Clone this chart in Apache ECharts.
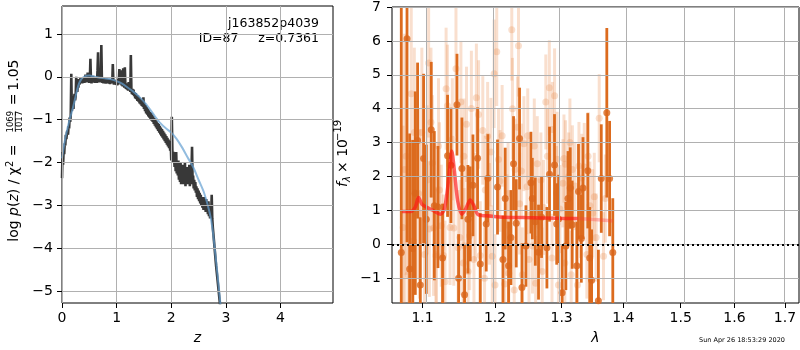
<!DOCTYPE html>
<html>
<head>
<meta charset="utf-8">
<script src="https://cdn.jsdelivr.net/npm/echarts@6/dist/echarts.min.js"></script>
<style>
	html, body { margin: 0; padding: 0; background: #fff; }
	#chart { width: 800px; height: 350px; }
</style>
</head>
<body>
<div id="chart"></div>
<script>
	// 左图：log p(z)
	var pzZ = [0.00, 0.01, 0.02, 0.03, 0.04, 0.05, 0.06, 0.07, 0.08, 0.09, 0.10, 0.11, 0.12, 0.13, 0.14, 0.15, 0.16, 0.17, 0.18, 0.19,
		0.20, 0.21, 0.22, 0.23, 0.24, 0.25, 0.26, 0.27, 0.28, 0.29, 0.30, 0.31, 0.32, 0.33, 0.34, 0.35, 0.36, 0.37, 0.38, 0.39,
		0.40, 0.41, 0.42, 0.43, 0.44, 0.45, 0.46, 0.47, 0.48, 0.49, 0.50, 0.51, 0.52, 0.53, 0.54, 0.55, 0.56, 0.57, 0.58, 0.59,
		0.60, 0.61, 0.62, 0.63, 0.64, 0.65, 0.66, 0.67, 0.68, 0.69, 0.70, 0.71, 0.72, 0.73, 0.74, 0.75, 0.76, 0.77, 0.78, 0.79,
		0.80, 0.81, 0.82, 0.83, 0.84, 0.85, 0.86, 0.87, 0.88, 0.89, 0.90, 0.91, 0.92, 0.93, 0.94, 0.95, 0.96, 0.97, 0.98, 0.99,
		1.00, 1.01, 1.02, 1.03, 1.04, 1.05, 1.06, 1.07, 1.08, 1.09, 1.10, 1.11, 1.12, 1.13, 1.14, 1.15, 1.16, 1.17, 1.18, 1.19,
		1.20, 1.21, 1.22, 1.23, 1.24, 1.25, 1.26, 1.27, 1.28, 1.29, 1.30, 1.31, 1.32, 1.33, 1.34, 1.35, 1.36, 1.37, 1.38, 1.39,
		1.40, 1.41, 1.42, 1.43, 1.44, 1.45, 1.46, 1.47, 1.48, 1.49, 1.50, 1.51, 1.52, 1.53, 1.54, 1.55, 1.56, 1.57, 1.58, 1.59,
		1.60, 1.61, 1.62, 1.63, 1.64, 1.65, 1.66, 1.67, 1.68, 1.69, 1.70, 1.71, 1.72, 1.73, 1.74, 1.75, 1.76, 1.77, 1.78, 1.79,
		1.80, 1.81, 1.82, 1.83, 1.84, 1.85, 1.86, 1.87, 1.88, 1.89, 1.90, 1.91, 1.92, 1.93, 1.94, 1.95, 1.96, 1.97, 1.98, 1.99,
		2.00, 2.01, 2.02, 2.03, 2.04, 2.05, 2.06, 2.07, 2.08, 2.09, 2.10, 2.11, 2.12, 2.13, 2.14, 2.15, 2.16, 2.17, 2.18, 2.19,
		2.20, 2.21, 2.22, 2.23, 2.24, 2.25, 2.26, 2.27, 2.28, 2.29, 2.30, 2.31, 2.32, 2.33, 2.34, 2.35, 2.36, 2.37, 2.38, 2.39,
		2.40, 2.41, 2.42, 2.43, 2.44, 2.45, 2.46, 2.47, 2.48, 2.49, 2.50, 2.51, 2.52, 2.53, 2.54, 2.55, 2.56, 2.57, 2.58, 2.59,
		2.60, 2.61, 2.62, 2.63, 2.64, 2.65, 2.66, 2.67, 2.68, 2.69, 2.70, 2.71, 2.72, 2.73, 2.74, 2.75, 2.76, 2.78, 2.80, 2.82,
		2.84, 2.86, 2.88, 2.90];
	var pzLog = [-2.36, -1.75, -2.05, -1.70, -1.80, -1.55, -1.60, -1.35, -1.45, -1.30, -1.25, -1.35, -1.15, -1.20, -0.95, -1.05, -0.90, 0.07, -0.80, -0.70,
		-0.55, -0.75, -0.50, -0.40, -0.55, -0.45, 0.00, -0.30, -0.35, -0.20, -0.25, -0.05, -0.18, -0.15, -0.02, -0.12, -0.06, -0.15, -0.04, -0.12,
		-0.03, -0.14, -0.05, 0.05, -0.12, -0.04, -0.13, 0.10, -0.10, -0.03, -0.14, -0.06, 0.42, -0.08, -0.15, -0.02, -0.12, 0.02, -0.13, -0.05,
		-0.14, 0.00, -0.12, -0.05, -0.14, 0.15, 0.57, -0.10, -0.02, -0.13, 0.20, -0.08, 0.74, -0.05, -0.14, -0.04, -0.15, -0.03, -0.14, -0.06,
		-0.16, -0.04, -0.14, -0.06, -0.15, -0.05, -0.16, -0.07, -0.17, -0.06, -0.15, -0.05, -0.12, 0.30, -0.10, -0.18, -0.08, -0.17, -0.07, -0.19,
		-0.09, -0.20, -0.05, -0.18, -0.08, 0.18, -0.15, -0.06, 0.15, -0.20, -0.10, -0.22, 0.20, -0.15, -0.25, 0.22, -0.20, -0.28, -0.15, -0.30,
		-0.18, -0.32, -0.12, -0.30, -0.22, -0.35, 0.51, -0.30, -0.40, -0.28, -0.42, -0.30, -0.45, -0.36, -0.50, -0.38, -0.52, -0.42, -0.56, -0.44,
		-0.58, -0.47, -0.62, -0.50, -0.64, -0.53, -0.68, -0.56, -0.70, -0.48, -0.75, -0.62, -0.80, -0.66, -0.85, -0.70, -0.88, -0.74, -0.92, -0.78,
		-0.95, -0.82, -0.98, -0.84, -1.02, -0.88, -1.05, -0.92, -1.10, -0.96, -1.14, -1.00, -1.18, -1.04, -1.22, -1.08, -1.26, -1.10, -1.30, -1.14,
		-1.34, -1.18, -1.38, -1.22, -1.42, -1.26, -1.46, -1.30, -1.50, -1.34, -1.54, -1.38, -1.58, -1.42, -1.62, -1.46, -1.66, -1.50, -1.72, -1.55,
		-1.95, -0.93, -1.70, -2.00, -1.75, -1.85, -2.10, -1.80, -2.20, -1.75, -2.25, -1.95, -2.30, -1.95, -2.40, -2.05, -2.45, -2.00, -2.50, -2.10,
		-2.40, -2.05, -2.50, -2.15, -2.45, -2.00, -2.55, -2.15, -2.45, -2.10, -2.50, -2.20, -2.45, -2.05, -2.55, -2.25, -2.50, -2.20, -1.63, -2.40,
		-2.30, -2.60, -2.40, -2.65, -2.45, -2.70, -2.55, -2.80, -2.60, -2.85, -2.65, -2.90, -2.70, -2.95, -2.75, -3.00, -2.80, -3.05, -2.85, -3.10,
		-2.80, -3.05, -2.90, -3.15, -2.85, -3.10, -2.95, -3.20, -2.90, -3.25, -3.00, -3.30, -3.05, -3.25, -2.75, -3.30, -3.50, -3.80, -4.10, -4.40,
		-4.65, -4.90, -5.15, -5.40];
	// 平滑先验曲线
	var priorZ = [0.00, 0.05, 0.10, 0.15, 0.20, 0.25, 0.30, 0.35, 0.40, 0.50, 0.60, 0.70, 0.80, 0.90, 1.00, 1.10, 1.20, 1.30, 1.40,
		1.50, 1.60, 1.70, 1.80, 1.90, 2.00, 2.10, 2.20, 2.30, 2.40, 2.50, 2.60, 2.70, 2.75, 2.80, 2.85, 2.90];
	var priorLog = [-1.90, -1.50, -1.20, -0.95, -0.72, -0.45, -0.20, -0.06, 0.00, 0.03, 0.00, -0.02, -0.04, -0.06, -0.10, -0.16, -0.25, -0.34, -0.45,
		-0.58, -0.74, -0.92, -1.08, -1.20, -1.30, -1.45, -1.65, -1.88, -2.10, -2.40, -2.70, -3.15, -3.50, -4.05, -4.65, -5.30];

	// 右图：光谱 (λ, f, 误差)
	var darkLam = [1.0722, 1.0796, 1.0830, 1.0869, 1.0904, 1.0934, 1.0970, 1.1013, 1.1049, 1.1115, 1.1156, 1.1205, 1.1267, 1.1335, 1.1381, 1.1464,
		1.1486, 1.1532, 1.1569, 1.1616, 1.1648, 1.1686, 1.1751, 1.1789, 1.1874, 1.1898, 1.2036, 1.2115, 1.2148, 1.2197, 1.2232, 1.2270,
		1.2310, 1.2359, 1.2395, 1.2454, 1.2529, 1.2550, 1.2595, 1.2644, 1.2690, 1.2772, 1.2812, 1.2889, 1.2923, 1.2953, 1.3008, 1.3066,
		1.3100, 1.3135, 1.3166, 1.3239, 1.3266, 1.3311, 1.3338, 1.3415, 1.3446, 1.3477, 1.3587, 1.3634, 1.3725, 1.3771, 1.3824];
	var darkFlux = [-0.24, 6.06, -0.73, -0.12, 1.51, 3.06, -1.20, 2.53, 0.74, 3.38, 1.14, 1.10, -0.40, 2.61, 2.33, 4.12,
		-1.00, 2.24, -1.49, 0.74, 0.90, 1.74, 2.54, -0.58, 0.60, 1.95, 1.69, -0.45, 1.35, -0.63, 0.20, 2.38,
		0.62, 3.12, -1.27, -0.05, 1.82, 1.35, 0.67, -0.23, 0.80, -0.10, 2.07, 2.34, 0.60, 0.75, -1.43, -0.05,
		1.35, 1.66, 0.58, -0.63, 1.56, 0.17, 1.66, 2.17, -0.40, -1.06, -1.66, 1.94, 3.88, 1.94, -0.24];
	var darkErr = [7.5, 6.0, 4.0, 3.2, 3.0, 2.3, 2.0, 2.5, 2.2, 2.0, 2.2, 1.8, 1.6, 1.8, 1.7, 1.5,
		1.3, 1.5, 1.5, 1.6, 1.4, 1.5, 1.5, 1.5, 1.4, 1.3, 1.4, 1.3, 1.5, 1.3, 1.4, 1.4,
		1.3, 1.5, 1.3, 1.2, 1.5, 1.2, 1.3, 1.4, 1.2, 1.2, 1.4, 1.5, 1.2, 1.3, 1.4, 1.3,
		1.4, 1.2, 1.3, 1.3, 1.4, 1.3, 1.5, 1.7, 1.5, 1.5, 1.5, 1.6, 2.5, 1.7, 1.6];

	var lightLam = [1.0765, 1.0851, 1.0891, 1.0947, 1.1080, 1.1111, 1.1146, 1.1181, 1.1212, 1.1279, 1.1315, 1.1333, 1.1369, 1.1450, 1.1505, 1.1518,
		1.1563, 1.1596, 1.1618, 1.1664, 1.1734, 1.1765, 1.1789, 1.1825, 1.1894, 1.1941, 1.1987, 1.2025, 1.2071, 1.2103, 1.2141, 1.2174,
		1.2244, 1.2254, 1.2292, 1.2329, 1.2343, 1.2386, 1.2424, 1.2481, 1.2553, 1.2625, 1.2663, 1.2721, 1.2755, 1.2809, 1.2856, 1.2890,
		1.2929, 1.2973, 1.3036, 1.3061, 1.3110, 1.3169, 1.3209, 1.3273, 1.3318, 1.3358, 1.3449, 1.3494, 1.3600, 1.3671,
		1.0745, 1.0810, 1.0880, 1.0960, 1.1025, 1.1090, 1.1180, 1.1250, 1.1300, 1.1420, 1.1480, 1.1550, 1.1640, 1.1700, 1.1850, 1.1960,
		1.2000, 1.2200, 1.2280, 1.2400, 1.2500, 1.2600, 1.2700, 1.2850, 1.2950, 1.3050, 1.3150, 1.3250, 1.3400, 1.3550, 1.3700,
		1.0785, 1.0990, 1.1060, 1.1130, 1.1225, 1.1400, 1.1560, 1.1720, 1.1860, 1.1920, 1.2050, 1.2190, 1.2360, 1.2470, 1.2580, 1.2680,
		1.2780, 1.2920, 1.3020, 1.3130, 1.3300, 1.3420, 1.3520];
	var lightFlux = [2.21, 4.44, 3.30, 1.50, 5.35, 3.60, 0.48, -0.30, 2.90, -0.33, 4.59, 4.09, 0.50, 5.18, 0.20, 4.20,
		-0.04, 3.54, -0.80, 4.01, 4.32, 3.83, -0.33, 3.36, 3.19, 2.72, 5.03, 5.68, 1.87, 3.20, -1.17, 0.57,
		6.33, 4.00, 2.21, 3.45, 5.86, 2.16, 2.97, 3.20, -0.05, 2.38, 0.54, 1.09, 4.20, 4.62, 3.39, 4.38,
		2.51, 1.04, 2.53, 2.36, 2.00, 2.21, 1.72, 2.31, 1.96, 2.28, 1.14, 0.92, 3.72, -0.35,
		0.50, -0.90, 0.10, 0.90, -0.30, 0.45, -0.35, 0.55, -1.10, 0.48, -0.10, -0.55, 0.25, -0.45, -1.00, -0.35,
		-1.20, -0.85, -1.35, -0.90, -0.45, -1.15, -0.80, -0.40, -1.20, -0.55, -0.90, -1.20, -0.30, 0.20, 1.35,
		2.60, 3.30, 1.90, 2.40, 1.60, 3.10, 2.60, 1.10, 1.60, 0.90, 2.50, 1.50, 1.20, 1.70, 2.90, 1.90,
		2.60, 1.50, 1.80, 3.00, 0.90, 2.60, 1.40];
	var lightErr = [4.0, 3.0, 2.5, 2.5, 2.2, 2.2, 2.0, 2.0, 2.0, 1.8, 1.8, 1.8, 1.7, 2.0, 1.7, 1.8,
		1.7, 1.7, 1.6, 1.7, 1.6, 1.6, 1.6, 1.6, 1.6, 1.6, 1.6, 1.6, 1.5, 1.5, 1.5, 1.5,
		1.5, 1.5, 1.5, 1.5, 1.5, 1.4, 1.4, 1.4, 1.4, 1.4, 1.4, 1.4, 1.4, 1.4, 1.4, 1.4,
		1.4, 1.3, 1.3, 1.3, 1.3, 1.3, 1.3, 1.3, 1.3, 1.3, 1.3, 1.3, 1.3, 1.3,
		3.0, 3.0, 2.5, 2.5, 2.0, 2.0, 2.0, 1.8, 1.8, 1.7, 1.7, 1.7, 1.6, 1.6, 1.5, 1.5,
		1.5, 1.5, 1.5, 1.4, 1.4, 1.4, 1.3, 1.3, 1.3, 1.3, 1.3, 1.3, 1.3, 1.3, 1.3,
		3.5, 2.5, 2.2, 2.0, 2.0, 1.8, 1.7, 1.6, 1.6, 1.5, 1.5, 1.5, 1.5, 1.4, 1.4, 1.4,
		1.4, 1.4, 1.3, 1.3, 1.3, 1.3, 1.3];

	// 模型曲线
	var modelLam = [1.0730, 1.0840, 1.0904, 1.0947, 1.0992, 1.1058, 1.1146, 1.1235, 1.1288, 1.1335, 1.1381, 1.1391, 1.1429, 1.1474, 1.1532,
		1.1590, 1.1648, 1.1694, 1.1762, 1.1878, 1.2061, 1.2439, 1.2946, 1.3252];
	var modelFlux = [0.97, 0.97, 1.10, 1.38, 1.18, 1.09, 0.99, 0.89, 1.02, 1.65, 2.61, 2.75, 2.16, 1.28, 0.89,
		1.07, 1.31, 1.16, 0.87, 0.84, 0.81, 0.79, 0.77, 0.76];
	var modelTailLam = [1.3252, 1.3459, 1.3749, 1.3824];
	var modelTailFlux = [0.76, 0.74, 0.70, 0.69];

	var zTicks = [0, 1, 2, 3, 4];
	var pzTicks = [-5, -4, -3, -2, -1, 0, 1];
	var lamTicks = [1.1, 1.2, 1.3, 1.4, 1.5, 1.6, 1.7];
	var fluxTicks = [-1, 0, 1, 2, 3, 4, 5, 6, 7];

	var FONT = 'DejaVu Sans';
	var minus = function(v) { return String(v).replace('-', '\u2212'); };
	var zip = function(a, b) { return a.map(function(v, i) { return [v, b[i]]; }); };
	var lnZip = function(a, b) { return a.map(function(v, i) { return [Math.log(v), b[i]]; }); };
	var lnZip3 = function(a, b, c) { return a.map(function(v, i) { return [Math.log(v), b[i], c[i]]; }); };

	/*误差棒*/
	function errBar(color, width) {
		return function(params, api) {
			var x = api.value(0), y = api.value(1), e = api.value(2);
			var p1 = api.coord([x, y - e]);
			var p2 = api.coord([x, y + e]);
			return {
				type: 'line',
				shape: { x1: p1[0], y1: p1[1], x2: p2[0], y2: p2[1] },
				style: { stroke: color, lineWidth: width }
			};
		};
	}

	/*网格线*/
	function gridLines(xi, xs, ys) {
		var data = xs.map(function(v) { return { xAxis: v }; }).concat(ys.map(function(v) { return { yAxis: v }; }));
		return {
			type: 'line', xAxisIndex: xi, yAxisIndex: xi, data: [], z: 1, silent: true,
			markLine: { silent: true, symbol: 'none', label: { show: false }, animation: false,
				lineStyle: { color: '#b0b0b0', width: 1, type: 'solid' }, emphasis: { disabled: true }, data: data }
		};
	}

	function ax(extra, ticks, fmt, margin) {
		return Object.assign({
			axisLine: { show: false, onZero: false },
			axisTick: { show: true, inside: false, length: 5, customValues: ticks, lineStyle: { color: '#000', width: 1 } },
			splitLine: { show: false },
			axisLabel: { color: '#000', fontSize: 14, fontFamily: FONT, customValues: ticks, formatter: fmt, margin: margin }
		}, extra);
	}

	var myChart = echarts.init(document.getElementById('chart'));
	var option = {
		animation: false,
		grid: [
			{ left: 62, top: 6, width: 271, height: 298, show: true, borderColor: '#000', borderWidth: 1, backgroundColor: 'transparent' },
			{ left: 392, top: 6, width: 407, height: 298, show: true, borderColor: '#000', borderWidth: 1, backgroundColor: 'transparent' }
		],
		xAxis: [
			ax({ type: 'value', gridIndex: 0, min: 0, max: 4.96, name: 'z', nameLocation: 'middle', nameGap: 28,
				nameTextStyle: { fontSize: 14, fontStyle: 'italic', fontFamily: FONT, color: '#000' } },
				zTicks, function(v) { return minus(v); }, 8),
			ax({ type: 'value', gridIndex: 1, min: Math.log(1.0603), max: Math.log(1.729), name: 'λ', nameLocation: 'middle', nameGap: 28,
				nameTextStyle: { fontSize: 14, fontStyle: 'italic', fontFamily: FONT, color: '#000' } },
				lamTicks.map(Math.log), function(v) { return Math.exp(v).toFixed(1); }, 8)
		],
		yAxis: [
			ax({ type: 'value', gridIndex: 0, min: -5.27, max: 1.65 }, pzTicks, function(v) { return minus(v); }, 9),
			ax({ type: 'value', gridIndex: 1, min: -1.73, max: 7 }, fluxTicks, function(v) { return minus(v); }, 11)
		],
		graphic: [
			{ type: 'text', x: 319, y: 23.5, style: { text: 'j163852p4039', font: '12.5px ' + FONT, fill: '#000', textAlign: 'right', textVerticalAlign: 'middle' } },
			{ type: 'text', x: 238.5, y: 38.5, style: { text: 'ID=87', font: '12.5px ' + FONT, fill: '#000', textAlign: 'right', textVerticalAlign: 'middle' } },
			{ type: 'text', x: 319, y: 38.5, style: { text: 'z=0.7361', font: '12.5px ' + FONT, fill: '#000', textAlign: 'right', textVerticalAlign: 'middle' } },
			{ type: 'text', x: 742, y: 340, style: { text: 'Sun Apr 26 18:53:29 2020', font: '6.5px ' + FONT, fill: '#000', textAlign: 'center', textVerticalAlign: 'middle' } },
			{
				type: 'group', x: 14, y: 241.7, rotation: Math.PI / 2,
				children: [
					{ type: 'text', x: 0, y: 0, style: {
						text: '{n|log }{i|p}{n|(}{i|z}{n|) / χ}{u|2}{n| =}',
						fill: '#000', textAlign: 'left', textVerticalAlign: 'middle',
						rich: {
							n: { font: '14px ' + FONT, fill: '#000', lineHeight: 18 },
							i: { font: 'italic 14px ' + FONT, fill: '#000', lineHeight: 18 },
							u: { font: '10px ' + FONT, fill: '#000', verticalAlign: 'top', lineHeight: 18 }
						} } },
					{ type: 'text', x: 120, y: -3, style: { text: '1069', font: '8.5px ' + FONT, fill: '#000', textAlign: 'center', textVerticalAlign: 'middle' } },
					{ type: 'line', shape: { x1: 110, y1: 1.3, x2: 130, y2: 1.3 }, style: { stroke: '#000', lineWidth: 0.8 } },
					{ type: 'text', x: 120, y: 5.5, style: { text: '1017', font: '8.5px ' + FONT, fill: '#000', textAlign: 'center', textVerticalAlign: 'middle' } },
					{ type: 'text', x: 136.5, y: 0, style: { text: '=', font: '14px ' + FONT, fill: '#000', textAlign: 'left', textVerticalAlign: 'middle' } },
					{ type: 'text', x: 151, y: 0, style: { text: '1.05', font: '14px ' + FONT, fill: '#000', textAlign: 'left', textVerticalAlign: 'middle' } }
				]
			},
			{
				type: 'group', x: 343, y: 187, rotation: Math.PI / 2,
				children: [
					{ type: 'text', x: 0, y: 0, style: { text: 'f', font: 'italic 14px ' + FONT, fill: '#000', textAlign: 'left', textVerticalAlign: 'middle' } },
					{ type: 'text', x: 5, y: 4, style: { text: 'λ', font: 'italic 10px ' + FONT, fill: '#000', textAlign: 'left', textVerticalAlign: 'middle' } },
					{ type: 'text', x: 14, y: 0, style: { text: '× 10', font: '14px ' + FONT, fill: '#000', textAlign: 'left', textVerticalAlign: 'middle' } },
					{ type: 'text', x: 46, y: -5, style: { text: '\u221219', font: '10px ' + FONT, fill: '#000', textAlign: 'left', textVerticalAlign: 'middle' } }
				]
			}
		],
		series: [
			gridLines(0, zTicks, pzTicks),
			gridLines(1, lamTicks.map(Math.log), fluxTicks),
			{ type: 'line', xAxisIndex: 0, yAxisIndex: 0, data: zip(pzZ, pzLog), showSymbol: false, clip: true, z: 2,
				lineStyle: { color: '#383838', width: 2.6 } },
			{ type: 'line', xAxisIndex: 0, yAxisIndex: 0, data: zip(priorZ, priorLog), showSymbol: false, clip: true, smooth: 0.3, z: 3,
				lineStyle: { color: 'rgba(100,160,210,0.7)', width: 2 } },
			{ type: 'custom', xAxisIndex: 1, yAxisIndex: 1, data: lnZip3(lightLam, lightFlux, lightErr), clip: true, z: 2,
				renderItem: errBar('rgba(232,140,80,0.28)', 3) },
			{ type: 'scatter', xAxisIndex: 1, yAxisIndex: 1, data: lnZip(lightLam, lightFlux), symbolSize: 7, clip: true, z: 2,
				itemStyle: { color: 'rgba(232,140,80,0.35)' } },
			{ type: 'custom', xAxisIndex: 1, yAxisIndex: 1, data: lnZip3(darkLam, darkFlux, darkErr), clip: true, z: 3,
				renderItem: errBar('#dc6b1e', 2.8) },
			{ type: 'scatter', xAxisIndex: 1, yAxisIndex: 1, data: lnZip(darkLam, darkFlux), symbolSize: 7, clip: true, z: 3,
				itemStyle: { color: '#d9651a' } },
			{ type: 'line', xAxisIndex: 1, yAxisIndex: 1, data: lnZip(modelLam, modelFlux), showSymbol: false, smooth: 0.3, z: 4,
				lineStyle: { color: 'rgba(255,20,20,0.65)', width: 3.5 } },
			{ type: 'line', xAxisIndex: 1, yAxisIndex: 1, data: lnZip(modelTailLam, modelTailFlux), showSymbol: false, z: 4,
				lineStyle: { color: 'rgba(255,60,60,0.35)', width: 3.5 },
				markLine: { silent: true, symbol: 'none', label: { show: false },
					lineStyle: { color: '#000', width: 2, type: [2, 3] },
					data: [{ yAxis: 0 }] } }
		]
	};
	myChart.setOption(option);
</script>
</body>
</html>
